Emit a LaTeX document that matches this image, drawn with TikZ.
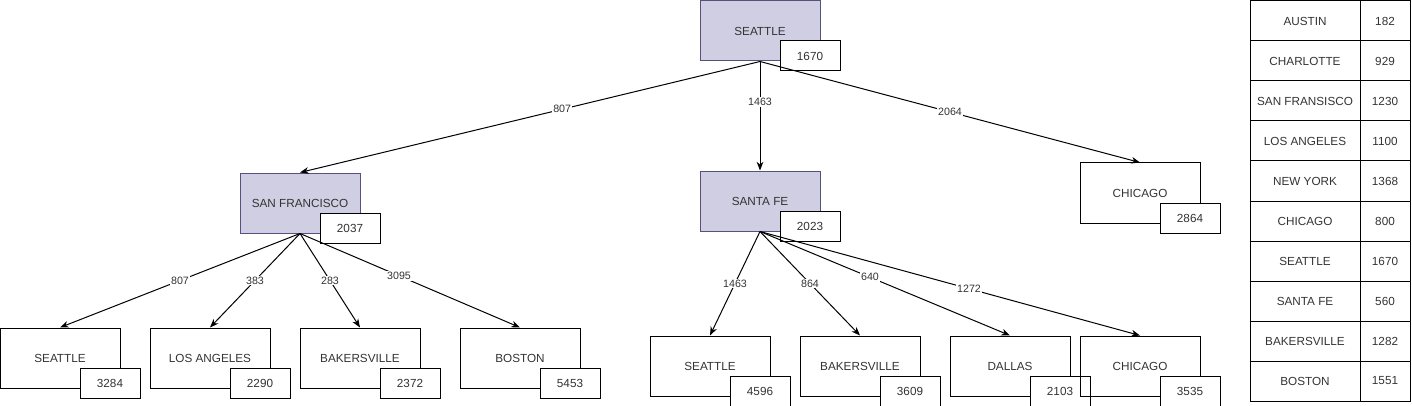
\documentclass[tikz,border=0pt]{standalone}
\usepackage{fontspec}
\setmainfont{Liberation Sans}
\usetikzlibrary{arrows.meta}
\definecolor{txt}{HTML}{333333}
\definecolor{lav}{HTML}{D0CEE2}
\definecolor{lavb}{HTML}{56517E}
\tikzset{
  city/.style={draw=black, line width=0.75pt, minimum width=90pt, minimum height=45pt, inner sep=0pt, font=\fontsize{8.8pt}{10pt}\selectfont, text=txt},
  cityp/.style={city, fill=lav, draw=lavb},
  val/.style={draw=black, fill=white, line width=0.75pt, minimum width=45pt, minimum height=22.5pt, inner sep=0pt, font=\fontsize{8.8pt}{10pt}\selectfont, text=txt},
  edge/.style={draw=black, line width=0.75pt, -{Stealth[length=6.5pt,width=5pt,inset=2pt]}},
  lab/.style={fill=white, inner sep=0.8pt, font=\fontsize{8pt}{9pt}\selectfont, text=txt},
  tcell/.style={draw=black, line width=0.75pt, minimum height=30pt, inner sep=0pt, font=\fontsize{8.8pt}{10pt}\selectfont, text=txt},
}
\newcommand{\cityb}[6]{%
  \node[#4] (#1) at (#2,#3) {#5};
  \node[val] (#1v) at (#2+50,#3+25) {#6};}
\newcommand{\trow}[3]{%
  \node[tcell, minimum width=82.5pt] (t#1a) at (1305,21+40*#1) {#2};
  \node[tcell, minimum width=37.5pt] (t#1b) at (1385,21+40*#1) {#3};}
\begin{document}
\begin{tikzpicture}[x=0.75pt,y=-0.75pt]
\useasboundingbox (0,0) rectangle (1412,406);
% top
\cityb{sea}{760}{31}{cityp}{SEATTLE}{1670}
\cityb{sf}{300}{203}{cityp}{SAN FRANCISCO}{2037}
\cityb{sfe}{760}{201}{cityp}{SANTA FE}{2023}
\cityb{chi}{1140}{193}{city}{CHICAGO}{2864}
% left bottom
\cityb{sfa}{60}{358}{city}{SEATTLE}{3284}
\cityb{sfb}{210}{358}{city}{LOS ANGELES}{2290}
\cityb{sfc}{360}{358}{city}{BAKERSVILLE}{2372}
\cityb{sfd}{520}{358}{city}{BOSTON}{5453}
% right bottom
\cityb{fea}{710}{366}{city}{SEATTLE}{4596}
\cityb{feb}{860}{366}{city}{BAKERSVILLE}{3609}
\cityb{fec}{1010}{366}{city}{DALLAS}{2103}
\cityb{fed}{1140}{366}{city}{CHICAGO}{3535}
\begin{scope}[on background layer/.try]
\end{scope}
% edges
\draw[edge] (sea.south) -- node[lab,pos=0.43]{807} (sf.north);
\draw[edge] (sea.south) -- node[lab,pos=0.37]{1463} (sfe.north);
\draw[edge] (sea.south) -- node[lab,pos=0.5]{2064} (chi.north);
\draw[edge] (sf.south) -- node[lab,pos=0.5]{807} (sfa.north);
\draw[edge] (sf.south) -- node[lab,pos=0.5]{383} (sfb.north);
\draw[edge] (sf.south) -- node[lab,pos=0.5]{283} (sfc.north);
\draw[edge] (sf.south) -- node[lab,pos=0.45]{3095} (sfd.north);
\draw[edge] (sfe.south) -- node[lab,pos=0.5]{1463} (fea.north);
\draw[edge] (sfe.south) -- node[lab,pos=0.5]{864} (feb.north);
\draw[edge] (sfe.south) -- node[lab,pos=0.44]{640} (fec.north);
\draw[edge] (sfe.south) -- node[lab,pos=0.55]{1272} (fed.north);
% table
\trow{0}{AUSTIN}{182}
\trow{1}{CHARLOTTE}{929}
\trow{2}{SAN FRANSISCO}{1230}
\trow{3}{LOS ANGELES}{1100}
\trow{4}{NEW YORK}{1368}
\trow{5}{CHICAGO}{800}
\trow{6}{SEATTLE}{1670}
\trow{7}{SANTA FE}{560}
\trow{8}{BAKERSVILLE}{1282}
\trow{9}{BOSTON}{1551}
\end{tikzpicture}
\end{document}
